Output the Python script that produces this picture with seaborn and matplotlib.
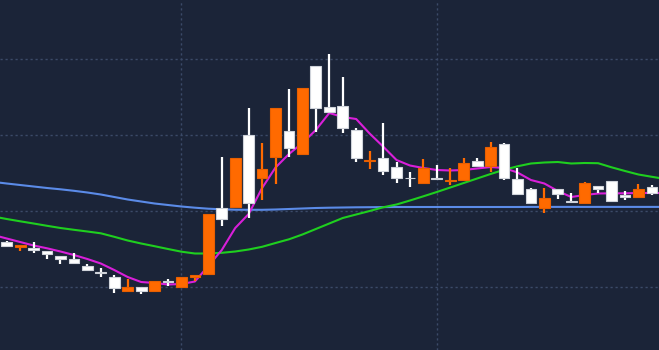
import numpy as np
import pandas as pd
import matplotlib
matplotlib.use("Agg")
import matplotlib.pyplot as plt
import seaborn as sns

# ---- data ----
opens = [12.10, 11.60, 11.44, 11.17, 10.67, 10.37, 9.70, 9.10, 8.60, 7.20,
         7.54, 7.17, 8.17, 7.60, 8.60, 8.84, 15.50, 15.60, 22.77, 18.50,
         20.60, 23.17, 20.84, 29.70, 25.60, 25.67, 23.32, 20.15, 20.50, 19.60,
         18.52, 17.94, 18.50, 18.22, 18.27, 20.17, 19.67, 21.84, 18.34, 17.37,
         15.44, 17.37, 16.20, 16.00, 17.67, 18.20, 16.77, 16.60, 17.54]
highs = [12.22, 11.77, 12.04, 11.17, 10.67, 10.99, 9.87, 9.44, 8.77, 8.37,
         7.54, 8.17, 8.34, 8.60, 8.77, 14.92, 20.57, 20.44, 25.44, 22.00,
         25.44, 27.34, 27.50, 29.70, 30.84, 28.54, 23.47, 21.17, 23.94, 20.10,
         19.10, 20.34, 19.77, 19.50, 20.44, 20.44, 22.10, 22.00, 19.44, 17.50,
         17.44, 17.37, 16.94, 18.10, 17.67, 18.20, 17.20, 17.84, 17.77]
lows = [11.57, 11.17, 10.94, 10.34, 9.87, 10.00, 9.27, 8.54, 7.00, 7.20,
        6.87, 7.17, 7.67, 7.60, 8.17, 8.84, 13.67, 15.60, 14.44, 16.27,
        17.87, 20.60, 20.84, 23.10, 25.10, 23.00, 20.07, 19.34, 18.77, 18.00,
        17.54, 17.94, 18.37, 17.77, 18.27, 19.67, 19.10, 18.27, 16.87, 15.94,
        14.94, 16.34, 16.04, 16.00, 17.00, 16.20, 16.27, 16.60, 16.77]
closes = [11.70, 11.77, 11.27, 10.84, 10.37, 10.00, 9.27, 9.00, 7.44, 7.60,
          7.20, 8.17, 8.04, 8.60, 8.77, 14.92, 14.34, 20.44, 16.00, 19.34,
          25.44, 21.44, 27.50, 25.44, 25.10, 23.44, 20.42, 20.25, 19.20, 18.50,
          18.42, 19.50, 18.37, 18.32, 19.94, 19.67, 21.60, 18.50, 16.87, 15.94,
          16.50, 16.87, 16.04, 17.94, 17.34, 16.20, 16.54, 17.37, 16.94]

# moving-average lines, sampled from one bar before the first candle to one after the last
ma_short = [12.77, 12.42, 12.07, 11.72, 11.44, 11.12, 10.77, 10.37, 9.92, 9.27,
            8.57, 8.07, 7.97, 7.82, 7.87, 8.12, 9.67, 11.27, 13.47, 14.87,
            17.47, 19.52, 20.87, 21.97, 23.27, 24.97, 24.57, 24.37, 22.92, 21.62,
            20.27, 19.72, 19.47, 19.27, 19.22, 19.27, 19.42, 19.57, 19.47, 19.02,
            18.27, 17.92, 17.17, 16.57, 16.77, 16.92, 16.94, 16.94, 16.97, 16.97,
            16.97]
ma_mid = [14.62, 14.37, 14.14, 13.92, 13.69, 13.47, 13.29, 13.12, 12.94, 12.59,
          12.22, 11.92, 11.65, 11.37, 11.10, 10.92, 10.92, 10.99, 11.12, 11.32,
          11.59, 11.97, 12.34, 12.82, 13.37, 13.92, 14.47, 14.82, 15.17, 15.54,
          15.82, 16.22, 16.64, 17.07, 17.52, 17.97, 18.42, 18.87, 19.29, 19.64,
          19.92, 20.02, 20.07, 19.92, 19.97, 19.95, 19.54, 19.17, 18.82, 18.59,
          18.37]
ma_long = [18.08, 17.92, 17.77, 17.62, 17.47, 17.34, 17.19, 17.02, 16.82, 16.57,
           16.32, 16.12, 15.92, 15.77, 15.62, 15.50, 15.40, 15.34, 15.30, 15.29,
           15.29, 15.32, 15.37, 15.42, 15.47, 15.50, 15.52, 15.54, 15.55, 15.56,
           15.57, 15.57, 15.57, 15.57, 15.57, 15.57, 15.57, 15.57, 15.57, 15.57,
           15.58, 15.58, 15.58, 15.58, 15.58, 15.58, 15.58, 15.58, 15.58, 15.58,
           15.58]

BG = "#1b2438"
GRID = "#3b4a68"
UP = "#ff6a00"
UP_EDGE = "#e85f00"
DOWN = "#ffffff"
DOWN_EDGE = "#cfd3da"

sns.set_style("dark", {"axes.facecolor": BG, "figure.facecolor": BG})

candles = pd.DataFrame({"open": opens, "high": highs, "low": lows, "close": closes})
candles["idx"] = np.arange(len(candles))
ma = pd.DataFrame({"idx": np.arange(-1, len(ma_short) - 1),
                   "short": ma_short, "mid": ma_mid, "long": ma_long})

fig = plt.figure(figsize=(6.59, 3.5), dpi=100)
ax = fig.add_axes([0, 0, 1, 1])
ax.set_facecolor(BG)

# moving averages
sns.lineplot(data=ma, x="idx", y="long", color="#5b8be8", linewidth=1.5, ax=ax, zorder=2)
sns.lineplot(data=ma, x="idx", y="mid", color="#1fcf1f", linewidth=1.5, ax=ax, zorder=2)
sns.lineplot(data=ma, x="idx", y="short", color="#d91fd9", linewidth=1.5, ax=ax, zorder=2)

# candles
up = candles["close"] >= candles["open"]
for is_up, face, edge in [(True, UP, UP_EDGE), (False, DOWN, DOWN_EDGE)]:
    sub = candles[up == is_up]
    ax.vlines(sub["idx"], sub["low"], sub["high"], color=face, linewidth=1.6, zorder=3)
    bottom = np.minimum(sub["open"], sub["close"])
    height = np.maximum((sub["close"] - sub["open"]).abs(), 0.08)
    ax.bar(sub["idx"], height, bottom=bottom, width=0.8, color=face,
           edgecolor=edge, linewidth=0.8, zorder=4)

ax.set_xlim(-0.5, 48.53)
ax.set_ylim(1.27, 36.27)
ax.set_xticks([13, 32])
ax.set_yticks([7.6, 15.2, 22.8, 30.4])
ax.grid(True, color=GRID, linestyle=(0, (1.6, 2.0)), linewidth=1.0)
ax.set_axisbelow(True)
ax.tick_params(length=0, labelbottom=False, labelleft=False)
ax.set_xlabel("")
ax.set_ylabel("")
for s in ax.spines.values():
    s.set_visible(False)

fig.savefig("out.png", dpi=100, facecolor=BG)
